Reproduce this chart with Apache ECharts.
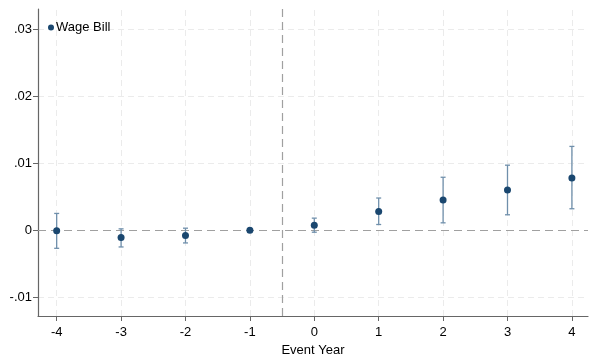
<!DOCTYPE html>
<html><head><meta charset="utf-8">
<script src="https://cdn.jsdelivr.net/npm/echarts@6/dist/echarts.min.js"></script>
<style>html,body{margin:0;padding:0;background:#fff}#c{width:589px;height:356px}</style>
</head><body><div id="c"></div>
<script>
const eventYears = [-4, -3, -2, -1, 0, 1, 2, 3, 4];
const estimates  = [-0.0001, -0.0011, -0.0008, 0, 0.00075, 0.0028, 0.0045, 0.0060, 0.0078];
const ciUpper    = [0.0025, 0.0002, 0.0003, null, 0.0018, 0.0048, 0.0079, 0.0097, 0.0125];
const ciLower    = [-0.0027, -0.0025, -0.0019, null, -0.0003, 0.00085, 0.0011, 0.0023, 0.0032];
const yTicks     = [-0.01, 0, 0.01, 0.02, 0.03];
const yTickLabels = ['-.01', '0', '.01', '.02', '.03'];
const seriesName = 'Wage Bill';
const treatLine = -0.5;

const chart = echarts.init(document.getElementById('c'));
const font = 'Liberation Sans, Arial, sans-serif';
const ciData = eventYears.map((x, i) => [x, ciLower[i], ciUpper[i]]).filter(d => d[1] !== null);

chart.setOption({
  animation: false,
  grid: { left: 38, right: 1, top: 9, bottom: 40, containLabel: false, outerBoundsMode: 'none' },
  legend: {
    left: 43, top: 16, itemWidth: 6, itemHeight: 6, itemGap: 5,
    textStyle: { fontFamily: font, fontSize: 13, color: '#000', padding: [0,0,0,-3] },
    data: [{ name: seriesName, icon: 'circle', itemStyle: { color: '#1a476f', borderWidth: 0 } }]
  },
  xAxis: {
    type: 'value', min: -4.29, max: 4.25,
    name: 'Event Year', nameLocation: 'middle', nameGap: 27,
    nameTextStyle: { fontFamily: font, fontSize: 13, color: '#000' },
    axisLine: { onZero: false, lineStyle: { color: '#666', width: 1.2 } },
    axisTick: { show: true, length: 5, lineStyle: { color: '#666' }, customValues: eventYears },
    axisLabel: { fontFamily: font, fontSize: 13, color: '#000', margin: 10, customValues: eventYears,
      formatter: v => String(v) },
    splitLine: { show: false }
  },
  yAxis: {
    type: 'value', min: -0.0128, max: 0.033,
    axisLine: { show: true, onZero: false, lineStyle: { color: '#666', width: 1.2 } },
    axisTick: { show: true, length: 5, lineStyle: { color: '#666' }, customValues: yTicks },
    axisLabel: { fontFamily: font, fontSize: 13, color: '#000', margin: 6, customValues: yTicks,
      formatter: v => { const i = yTicks.findIndex(t => Math.abs(t - v) < 1e-9); return i >= 0 ? yTickLabels[i] : ''; } },
    splitLine: { show: false }
  },
  series: [
    {
      type: 'line', data: [], silent: true, symbol: 'none', z: 0,
      markLine: {
        silent: true, symbol: 'none', label: { show: false }, z: 0,
        lineStyle: { color: '#ebebeb', type: [6, 4], width: 1 },
        data: eventYears.map(x => ({ xAxis: x })).concat(yTicks.filter(t => t !== 0).map(t => ({ yAxis: t })))
      }
    },
    {
      type: 'line', data: [], silent: true, symbol: 'none', z: 1,
      markLine: {
        silent: true, symbol: 'none', label: { show: false }, z: 1,
        lineStyle: { color: '#a0a0a0', type: [8, 5], width: 1.2 },
        data: [{ xAxis: treatLine }, { yAxis: 0 }]
      }
    },
    {
      type: 'custom', name: 'CI', data: ciData, z: 5,
      renderItem: (params, api) => {
        const x = api.value(0);
        const lo = api.coord([x, api.value(1)]);
        const hi = api.coord([x, api.value(2)]);
        const w = 2.5;
        const style = { stroke: '#6f8fab', lineWidth: 1.3 };
        return { type: 'group', children: [
          { type: 'line', shape: { x1: lo[0], y1: lo[1], x2: hi[0], y2: hi[1] }, style },
          { type: 'line', shape: { x1: lo[0]-w, y1: lo[1], x2: lo[0]+w, y2: lo[1] }, style },
          { type: 'line', shape: { x1: hi[0]-w, y1: hi[1], x2: hi[0]+w, y2: hi[1] }, style }
        ]};
      }
    },
    {
      type: 'scatter', name: seriesName, z: 6,
      data: eventYears.map((x, i) => [x, estimates[i]]),
      symbolSize: 7, itemStyle: { color: '#1a476f', opacity: 1 }
    }
  ]
});
</script></body></html>
